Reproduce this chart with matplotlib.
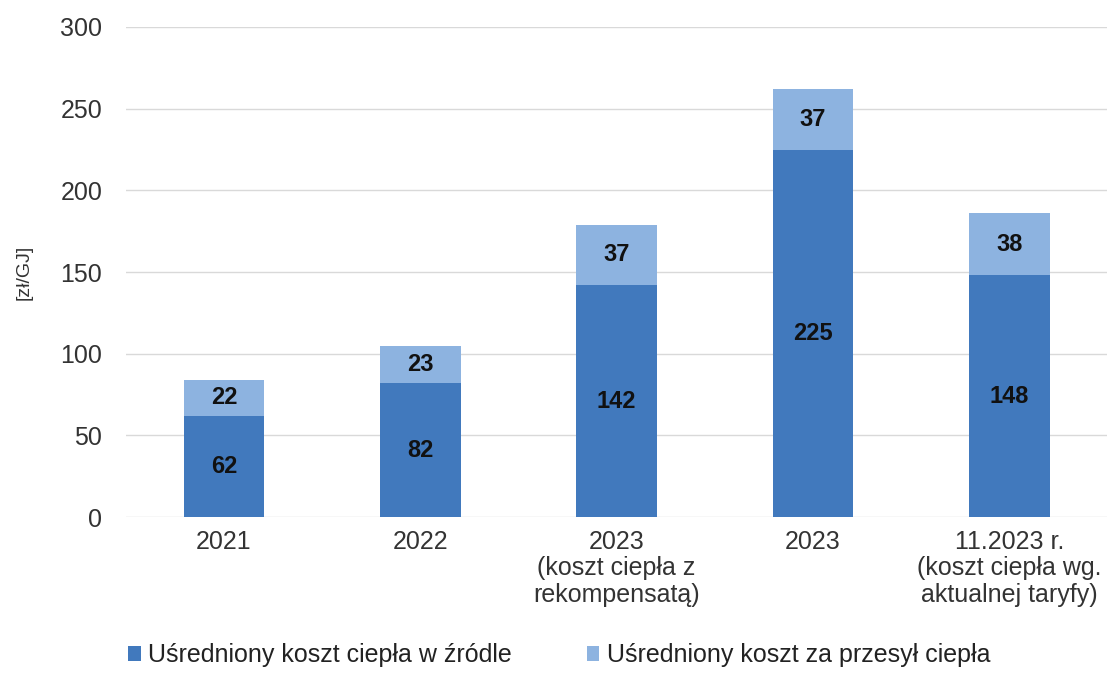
import matplotlib.pyplot as plt
import numpy as np

plt.rcParams['font.family'] = ['Liberation Sans', 'DejaVu Sans']

categories = ['2021', '2022', '2023\n(koszt ciepła z\nrekompensatą)', '2023',
              '11.2023 r.\n(koszt ciepła wg.\naktualnej taryfy)']
zrodlo = [62, 82, 142, 225, 148]
przesyl = [22, 23, 37, 37, 38]

c_dark = '#4179BD'
c_light = '#8DB3E0'

fig = plt.figure(figsize=(11.13, 6.75), dpi=100)
ax = fig.add_axes([0.113, 0.234, 0.882, 0.726])

x = np.arange(len(categories))
w = 0.41
b1 = ax.bar(x, zrodlo, w, color=c_dark, label='Uśredniony koszt ciepła w źródle', zorder=3)
b2 = ax.bar(x, przesyl, w, bottom=zrodlo, color=c_light, label='Uśredniony koszt za przesył ciepła', zorder=3)

for i in range(len(x)):
    ax.text(x[i], zrodlo[i] / 2, str(zrodlo[i]), ha='center', va='center',
            fontsize=17, fontweight='bold', color='#111111', zorder=4)
    ax.text(x[i], zrodlo[i] + przesyl[i] / 2, str(przesyl[i]), ha='center', va='center',
            fontsize=17, fontweight='bold', color='#111111', zorder=4)

ax.set_xlim(-0.5, len(x) - 0.5)
ax.set_ylim(0, 300)
ax.set_yticks(range(0, 301, 50))
ax.set_xticks(x)
ax.set_xticklabels(categories, fontsize=18, color='#333333', linespacing=1.15)
ax.tick_params(axis='y', labelsize=18, labelcolor='#333333', length=0, pad=17)
ax.tick_params(axis='x', length=0, pad=9)
ax.grid(axis='y', color='#D9D9D9', linewidth=1, zorder=0)
for s in ax.spines.values():
    s.set_visible(False)
ax.set_ylabel('[zł/GJ]', fontsize=14, color='#333333', labelpad=20)

fig.legend(handles=[b1, b2], loc='lower left', bbox_to_anchor=(0.095, -0.022), ncol=2,
           frameon=False, fontsize=18, handlelength=0.5, handleheight=0.5,
           handletextpad=0.3, columnspacing=3.0, labelcolor='#222222')

fig.savefig('out.png', dpi=100)
